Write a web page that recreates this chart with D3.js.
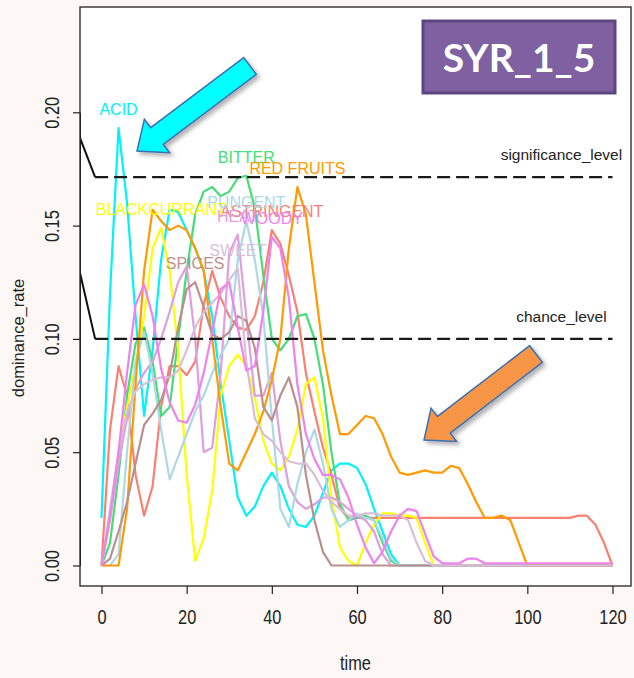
<!DOCTYPE html>
<html>
<head>
<meta charset="utf-8">
<script src="https://cdn.jsdelivr.net/npm/d3@7"></script>
<style>
  html, body { margin: 0; padding: 0; background: #fdf8f5; }
  svg { display: block; }
</style>
</head>
<body>
<svg id="chart" width="634" height="678"></svg>
<script>
// Time points (s) shared by every attribute curve
const time = [0,2,4,6,8,10,12,14,16,18,20,22,24,26,28,30,32,34,36,38,40,
  42,44,46,48,50,52,54,56,58,60,62,64,66,68,70,72,74,76,78,80,
  82,84,86,88,90,92,94,96,98,100,102,104,106,108,110,112,114,116,118,120];

const attributes = ["ACID","ASTRINGENT","BITTER","BLACKCURRANT","HEAT","PUNGENT","RED FRUITS","SPICES","SWEET","WOODY"];
const colors = ["#00f2fa","#fa8072","#44dd77","#ffff00","#dda0dd","#add8e6","#ff9a00","#bc8f8f","#d8bfd8","#ee82ee"];

// Dominance rate of each attribute over time
const acid = [0.021,0.12,0.193,0.16,0.11,0.066,0.095,0.135,0.157,0.156,0.148,0.14,0.13,0.11,0.08,0.055,0.03,0.022,0.026,0.035,0.041,
  0.035,0.025,0.018,0.017,0.022,0.032,0.042,0.045,0.045,0.043,0.036,0.025,0.015,0.005,0,0,0,0,0,0,
  0,0,0,0,0,0,0,0,0,0,0,0,0,0,0,0,0,0,0,0];
const astringent = [0,0.06,0.088,0.075,0.04,0.022,0.035,0.07,0.088,0.088,0.084,0.09,0.115,0.13,0.118,0.11,0.105,0.104,0.11,0.125,0.148,
  0.142,0.128,0.112,0.085,0.068,0.052,0.04,0.025,0.021,0.021,0.021,0.021,0.021,0.021,0.021,0.021,0.021,0.021,0.021,0.021,
  0.021,0.021,0.021,0.021,0.021,0.021,0.021,0.021,0.021,0.021,0.021,0.021,0.021,0.021,0.021,0.022,0.022,0.018,0.01,0];
const bitter = [0,0.01,0.04,0.075,0.098,0.105,0.09,0.066,0.07,0.1,0.13,0.155,0.165,0.167,0.163,0.165,0.171,0.172,0.158,0.128,0.1,
  0.095,0.1,0.11,0.111,0.1,0.08,0.05,0.027,0.02,0.021,0.022,0.02,0.01,0.002,0,0,0,0,0,0,
  0,0,0,0,0,0,0,0,0,0,0,0,0,0,0,0,0,0,0,0];
const blackcurrant = [0,0.02,0.05,0.07,0.088,0.11,0.14,0.149,0.13,0.095,0.04,0.002,0.012,0.033,0.075,0.088,0.093,0.088,0.074,0.055,0.045,
  0.042,0.048,0.06,0.08,0.083,0.065,0.03,0.008,0.002,0,0.01,0.018,0.023,0.023,0.022,0.022,0.021,0.01,0,0,
  0,0,0,0,0,0,0,0,0,0,0,0,0,0,0,0,0,0,0,0];
const heat = [0,0.02,0.045,0.065,0.078,0.085,0.09,0.1,0.112,0.125,0.132,0.1,0.05,0.052,0.085,0.138,0.146,0.11,0.075,0.075,0.085,
  0.055,0.035,0.028,0.025,0.027,0.03,0.03,0.028,0.025,0.022,0.02,0.015,0.005,0,0,0,0,0,0,0,
  0,0,0,0,0,0,0,0,0,0,0,0,0,0,0,0,0,0,0,0];
const pungent = [0,0,0.005,0.05,0.09,0.103,0.085,0.06,0.038,0.048,0.058,0.068,0.075,0.085,0.093,0.1,0.135,0.152,0.135,0.11,0.065,
  0.025,0.017,0.036,0.05,0.06,0.045,0.025,0.017,0.02,0.023,0.021,0.02,0.012,0.003,0,0,0,0,0,0,
  0,0,0,0,0,0,0,0,0,0,0,0,0,0,0,0,0,0,0,0];
const redFruits = [0,0,0,0.025,0.08,0.13,0.157,0.152,0.148,0.15,0.148,0.14,0.13,0.1,0.07,0.045,0.042,0.05,0.058,0.068,0.082,
  0.1,0.14,0.167,0.155,0.125,0.095,0.075,0.058,0.058,0.062,0.066,0.065,0.058,0.048,0.041,0.04,0.041,0.042,0.041,0.041,
  0.044,0.043,0.036,0.028,0.021,0.021,0.022,0.02,0.01,0,0,0,0,0,0,0,0,0,0,0];
const spices = [0,0.003,0.015,0.028,0.045,0.062,0.067,0.073,0.084,0.105,0.122,0.125,0.114,0.102,0.1,0.103,0.11,0.108,0.096,0.07,0.064,
  0.075,0.083,0.07,0.04,0.02,0.006,0,0,0,0,0,0,0,0,0,0,0,0,0,0,
  0,0,0,0,0,0,0,0,0,0,0,0,0,0,0,0,0,0,0,0];
const sweet = [0,0.025,0.05,0.068,0.077,0.08,0.082,0.083,0.083,0.086,0.095,0.105,0.112,0.116,0.12,0.126,0.131,0.09,0.065,0.058,0.055,
  0.05,0.046,0.045,0.045,0.04,0.033,0.028,0.025,0.022,0.022,0.023,0.023,0.022,0.022,0.022,0.02,0.01,0.002,0,0,
  0,0,0,0,0,0,0,0,0,0,0,0,0,0,0,0,0,0,0,0];
const woody = [0,0.022,0.05,0.085,0.115,0.124,0.11,0.087,0.072,0.064,0.063,0.071,0.085,0.103,0.122,0.125,0.105,0.086,0.088,0.112,0.145,
  0.14,0.118,0.08,0.058,0.047,0.04,0.04,0.038,0.03,0.018,0.008,0.001,0.006,0.015,0.022,0.025,0.024,0.014,0.004,0.001,
  0.001,0.001,0.003,0.003,0.001,0.001,0.001,0.001,0.001,0.001,0.001,0.001,0.001,0.001,0.001,0.001,0.001,0.001,0.001,0.001];

const seriesValues = [acid, astringent, bitter, blackcurrant, heat, pungent, redFruits, spices, sweet, woody];

// Reference levels
const levelNames = ["significance_level", "chance_level"];
const levelValues = [0.1714, 0.1];
const levelLinkStarts = [0.1887, 0.1292];   // value where the left connector leaves the frame

const yTicks = [0, 0.05, 0.10, 0.15, 0.20];
const yTickLabels = ["0.00", "0.05", "0.10", "0.15", "0.20"];
const xTicks = [0, 20, 40, 60, 80, 100, 120];

const svg = d3.select("#chart");
const box = { left: 80, top: 7, right: 631, bottom: 586 };

const x = d3.scaleLinear().domain([0, 120]).range([101.5, 612.5]);
const y = d3.scaleLinear().domain([0, 0.2]).range([565.5, 112.3]);
const tFrame = x.invert(box.left);

const textFont = "'Liberation Sans', Arial, sans-serif";
const narrow = 0.82;   // horizontal squeeze used for the axis annotation

// page background and plotting region
svg.append("rect").attr("width", 634).attr("height", 678).attr("fill", "#fdf8f5");
svg.append("rect")
  .attr("x", box.left).attr("y", box.top)
  .attr("width", box.right - box.left).attr("height", box.bottom - box.top)
  .attr("fill", "#ffffff");

const defs = svg.append("defs");
defs.append("clipPath").attr("id", "plotClip")
  .append("rect")
  .attr("x", box.left).attr("y", box.top)
  .attr("width", box.right - box.left).attr("height", box.bottom - box.top);

const plot = svg.append("g").attr("clip-path", "url(#plotClip)");

// attribute curves
const line = d3.line()
  .x((d, i) => x(time[i]))
  .y(d => y(d));

attributes.forEach((name, k) => {
  plot.append("path")
    .datum(seriesValues[k])
    .attr("d", line)
    .attr("fill", "none")
    .attr("stroke", colors[k])
    .attr("stroke-width", 2.2)
    .attr("stroke-linejoin", "round");
});

// reference levels: dashed line plus a short solid connector on the left
levelValues.forEach((v, k) => {
  plot.append("line")
    .attr("x1", x(-1.5)).attr("x2", x(120))
    .attr("y1", y(v)).attr("y2", y(v))
    .attr("stroke", "#1a1a1a").attr("stroke-width", 2.2)
    .attr("stroke-dasharray", "13,6");
  plot.append("line")
    .attr("x1", x(tFrame)).attr("y1", y(levelLinkStarts[k]))
    .attr("x2", x(-1.5)).attr("y2", y(v))
    .attr("stroke", "#111").attr("stroke-width", 2);
  svg.append("text")
    .attr("x", x(108)).attr("y", y(v) - 17)
    .attr("text-anchor", "middle")
    .attr("font-family", textFont)
    .attr("font-size", 15.5)
    .attr("fill", "#222")
    .text(levelNames[k]);
});

// attribute names just above each curve's peak
attributes.forEach((name, k) => {
  const vals = seriesValues[k];
  const iMax = d3.maxIndex(vals);
  svg.append("text")
    .attr("x", x(time[iMax]))
    .attr("y", y(vals[iMax]) - 13)
    .attr("text-anchor", "middle")
    .attr("font-family", textFont)
    .attr("font-size", 16)
    .attr("fill", colors[k])
    .text(name);
});

// plot frame
svg.append("rect")
  .attr("x", box.left).attr("y", box.top)
  .attr("width", box.right - box.left).attr("height", box.bottom - box.top)
  .attr("fill", "none").attr("stroke", "#222").attr("stroke-width", 1.3);

// y axis
const yAxis = svg.append("g").attr("transform", `translate(${box.left},0)`)
  .call(d3.axisLeft(y).tickValues(yTicks).tickSize(7).tickSizeOuter(0)
    .tickFormat((d, i) => yTickLabels[i]));
yAxis.select(".domain").attr("stroke", "#222");
yAxis.selectAll(".tick line").attr("stroke", "#222").attr("stroke-width", 1.2);
yAxis.selectAll(".tick text")
  .attr("font-family", textFont).attr("font-size", 20).attr("fill", "#222")
  .attr("x", null)
  .attr("text-anchor", "middle")
  .attr("transform", `translate(-28,0) rotate(-90) scale(${narrow},1)`)
  .attr("dy", "0.35em");

// x axis (ticks hang below the frame)
const xAxis = svg.append("g").attr("transform", `translate(0,${box.bottom})`)
  .call(d3.axisBottom(x).tickValues(xTicks).tickSize(8).tickSizeOuter(0));
xAxis.select(".domain").remove();
xAxis.selectAll(".tick line").attr("stroke", "#222").attr("stroke-width", 1.2);
xAxis.selectAll(".tick text")
  .attr("font-family", textFont).attr("font-size", 20).attr("fill", "#222")
  .attr("y", 24).attr("dy", "0.71em")
  .attr("transform", `scale(${narrow},1)`);

// axis titles
svg.append("text")
  .attr("transform", `translate(${(box.left + box.right) / 2},670) scale(${narrow},1)`)
  .attr("text-anchor", "middle")
  .attr("font-family", textFont).attr("font-size", 20).attr("fill", "#222")
  .text("time");
svg.append("text")
  .attr("transform", "translate(24,338) rotate(-90)")
  .attr("text-anchor", "middle")
  .attr("font-family", textFont).attr("font-size", 16.5).attr("fill", "#222")
  .text("dominance_rate");

// sample badge
const badge = svg.append("g");
badge.append("rect")
  .attr("x", 423).attr("y", 21).attr("width", 192).attr("height", 72)
  .attr("fill", "#7f60a0").attr("stroke", "#5c4680").attr("stroke-width", 3);
badge.append("text")
  .attr("x", 519).attr("y", 72)
  .attr("text-anchor", "middle")
  .attr("font-family", "Lato, 'Open Sans', sans-serif")
  .attr("font-weight", "bold").attr("font-size", 39)
  .attr("fill", "#ffffff")
  .text("SYR_1_5");

// callout arrows
const shadow = defs.append("filter").attr("id", "arrowShadow")
  .attr("x", "-20%").attr("y", "-20%").attr("width", "150%").attr("height", "150%");
shadow.append("feDropShadow").attr("dx", 3).attr("dy", 3).attr("stdDeviation", 2)
  .attr("flood-color", "#000").attr("flood-opacity", 0.3);

function arrowPath(tail, tip, shaftHalf, headHalf, headLen) {
  const dx = tip[0] - tail[0], dy = tip[1] - tail[1];
  const len = Math.hypot(dx, dy);
  const ux = dx / len, uy = dy / len;
  const nx = -uy, ny = ux;
  const bx = tip[0] - ux * headLen, by = tip[1] - uy * headLen;
  const pts = [
    [tail[0] + nx * shaftHalf, tail[1] + ny * shaftHalf],
    [bx + nx * shaftHalf, by + ny * shaftHalf],
    [bx + nx * headHalf, by + ny * headHalf],
    tip,
    [bx - nx * headHalf, by - ny * headHalf],
    [bx - nx * shaftHalf, by - ny * shaftHalf],
    [tail[0] - nx * shaftHalf, tail[1] - ny * shaftHalf]
  ];
  return "M" + pts.map(p => p.join(",")).join("L") + "Z";
}

svg.append("path")
  .attr("d", arrowPath([250, 66], [137, 151], 10.5, 21, 25))
  .attr("fill", "#00ffff").attr("stroke", "#3d6fb0").attr("stroke-width", 1.5)
  .attr("filter", "url(#arrowShadow)");
svg.append("path")
  .attr("d", arrowPath([536, 354], [424, 440], 10.5, 21, 25))
  .attr("fill", "#f79646").attr("stroke", "#3d6fb0").attr("stroke-width", 1.5)
  .attr("filter", "url(#arrowShadow)");
</script>
</body>
</html>
